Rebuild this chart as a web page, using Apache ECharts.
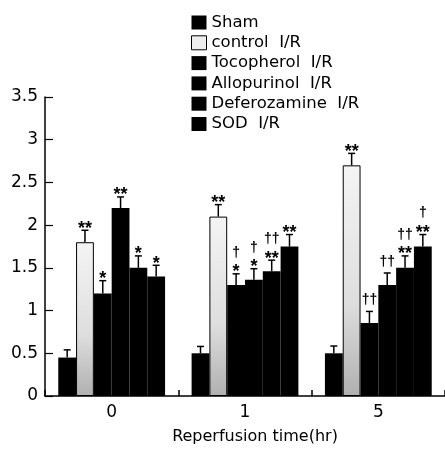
<!DOCTYPE html>
<html><head><meta charset="utf-8">
<script src="https://cdn.jsdelivr.net/npm/echarts@6/dist/echarts.min.js"></script>
<style>html,body{margin:0;padding:0;background:#fff}#c{width:445px;height:450px}</style>
</head><body><div id="c"></div>
<script>
var categories = ['0', '1', '5'];
var seriesNames = ['Sham', 'control  I/R', 'Tocopherol  I/R', 'Allopurinol  I/R', 'Deferozamine  I/R', 'SOD  I/R'];
var sham = [0.45, 0.50, 0.50];
var shamSE = [0.09, 0.08, 0.085];
var control = [1.80, 2.10, 2.70];
var controlSE = [0.14, 0.14, 0.14];
var tocopherol = [1.20, 1.30, 0.855];
var tocopherolSE = [0.15, 0.13, 0.135];
var allopurinol = [2.20, 1.36, 1.30];
var allopurinolSE = [0.13, 0.13, 0.14];
var deferozamine = [1.50, 1.46, 1.50];
var deferozamineSE = [0.14, 0.13, 0.14];
var sod = [1.40, 1.75, 1.75];
var sodSE = [0.13, 0.14, 0.14];
// significance marks, listed bottom line first
var shamMarks = [[], [], []];
var controlMarks = [['**'], ['**'], ['**']];
var tocopherolMarks = [['*'], ['*', '†'], ['††']];
var allopurinolMarks = [['**'], ['*', '†'], ['††']];
var deferozamineMarks = [['*'], ['**', '††'], ['**', '††']];
var sodMarks = [['*'], ['**'], ['**', '†']];
var yTicks = { min: 0, max: 3.5, interval: 0.5 };

var values = [sham, control, tocopherol, allopurinol, deferozamine, sod];
var ses = [shamSE, controlSE, tocopherolSE, allopurinolSE, deferozamineSE, sodSE];
var marks = [shamMarks, controlMarks, tocopherolMarks, allopurinolMarks, deferozamineMarks, sodMarks];

var BW = 17.8;
var FONT = '"DejaVu Sans", Verdana, sans-serif';
var MFONT = '"Liberation Sans", Arial, sans-serif';
var controlFill = new echarts.graphic.LinearGradient(0, 0, 0, 1, [
  { offset: 0, color: '#f4f4f4' }, { offset: 0.6, color: '#dedede' }, { offset: 1, color: '#b0b0b0' }
]);

var series = seriesNames.map(function (n, i) {
  return {
    name: n, type: 'bar', data: values[i], barWidth: BW, barGap: '0%',
    itemStyle: i === 1 ? { color: controlFill, borderColor: '#000', borderWidth: 1 } : { color: '#000' },
    emphasis: { disabled: true }, z: 2
  };
});

var errData = [];
values.forEach(function (arr, s) {
  arr.forEach(function (v, c) {
    errData.push([c, s, v, v + ses[s][c]]);
  });
});

series.push({
  type: 'custom', z: 5, silent: true,
  data: errData,
  renderItem: function (params, api) {
    var c = api.value(0), s = api.value(1);
    var p = api.coord([c, api.value(2)]);
    var t = api.coord([c, api.value(3)]);
    var x = p[0] + (s - 2.5) * BW;
    var children = [
      { type: 'line', shape: { x1: x, y1: p[1], x2: x, y2: t[1] }, style: { stroke: '#000', lineWidth: 1.5 } },
      { type: 'line', shape: { x1: x - 3.5, y1: t[1], x2: x + 3.5, y2: t[1] }, style: { stroke: '#000', lineWidth: 1.5 } }
    ];
    var m = marks[s][c];
    var cy = t[1];
    m.forEach(function (txt, k) {
      var isStar = txt.indexOf('*') >= 0;
      var center;
      if (isStar) { center = cy - 6; } else { center = (k === 0) ? cy - 11 : cy - 15; }
      cy = center;
      children.push({
        type: 'text',
        style: {
          text: txt, x: x, y: center + (isStar ? 4.5 : 0),
          textAlign: 'center', textVerticalAlign: 'middle',
          font: 'bold ' + (isStar ? 18 : 14) + 'px ' + MFONT, fill: '#000'
        }
      });
    });
    return { type: 'group', children: children };
  }
});

var chart = echarts.init(document.getElementById('c'), null, { renderer: 'canvas' });
chart.setOption({
  animation: false,
  backgroundColor: '#fff',
  grid: { left: 45, top: 97, width: 404, height: 303 },
  legend: {
    data: seriesNames.map(function (n, i) {
      return i === 1 ? { name: n, itemStyle: { color: '#eeeeee', borderColor: '#000', borderWidth: 1 } } : { name: n };
    }),
    orient: 'vertical', left: 191, top: 14, padding: 0,
    itemWidth: 15, itemHeight: 14, itemGap: 3.3, icon: 'rect',
    selectedMode: false,
    textStyle: { fontFamily: FONT, fontSize: 16.5, color: '#000' }
  },
  xAxis: {
    type: 'category', data: categories,
    axisLine: { lineStyle: { color: '#000', width: 1.5 } },
    axisTick: { show: true, inside: true, length: 6, lineStyle: { color: '#000', width: 1.5 } },
    axisLabel: { fontFamily: FONT, fontSize: 17, color: '#000', margin: 8 },
    name: 'Reperfusion time(hr)', nameLocation: 'middle', nameGap: 33,
    nameTextStyle: { fontFamily: FONT, fontSize: 16, color: '#000', padding: [0, 0, 0, 20] }
  },
  yAxis: {
    type: 'value', min: yTicks.min, max: yTicks.max, interval: yTicks.interval,
    splitLine: { show: false },
    axisLine: { show: true, lineStyle: { color: '#000', width: 1.5 } },
    axisTick: { show: true, inside: true, length: 8, lineStyle: { color: '#000', width: 1.2 } },
    axisLabel: { fontFamily: FONT, fontSize: 17, color: '#000', margin: 7 }
  },
  series: series
});
</script></body></html>
